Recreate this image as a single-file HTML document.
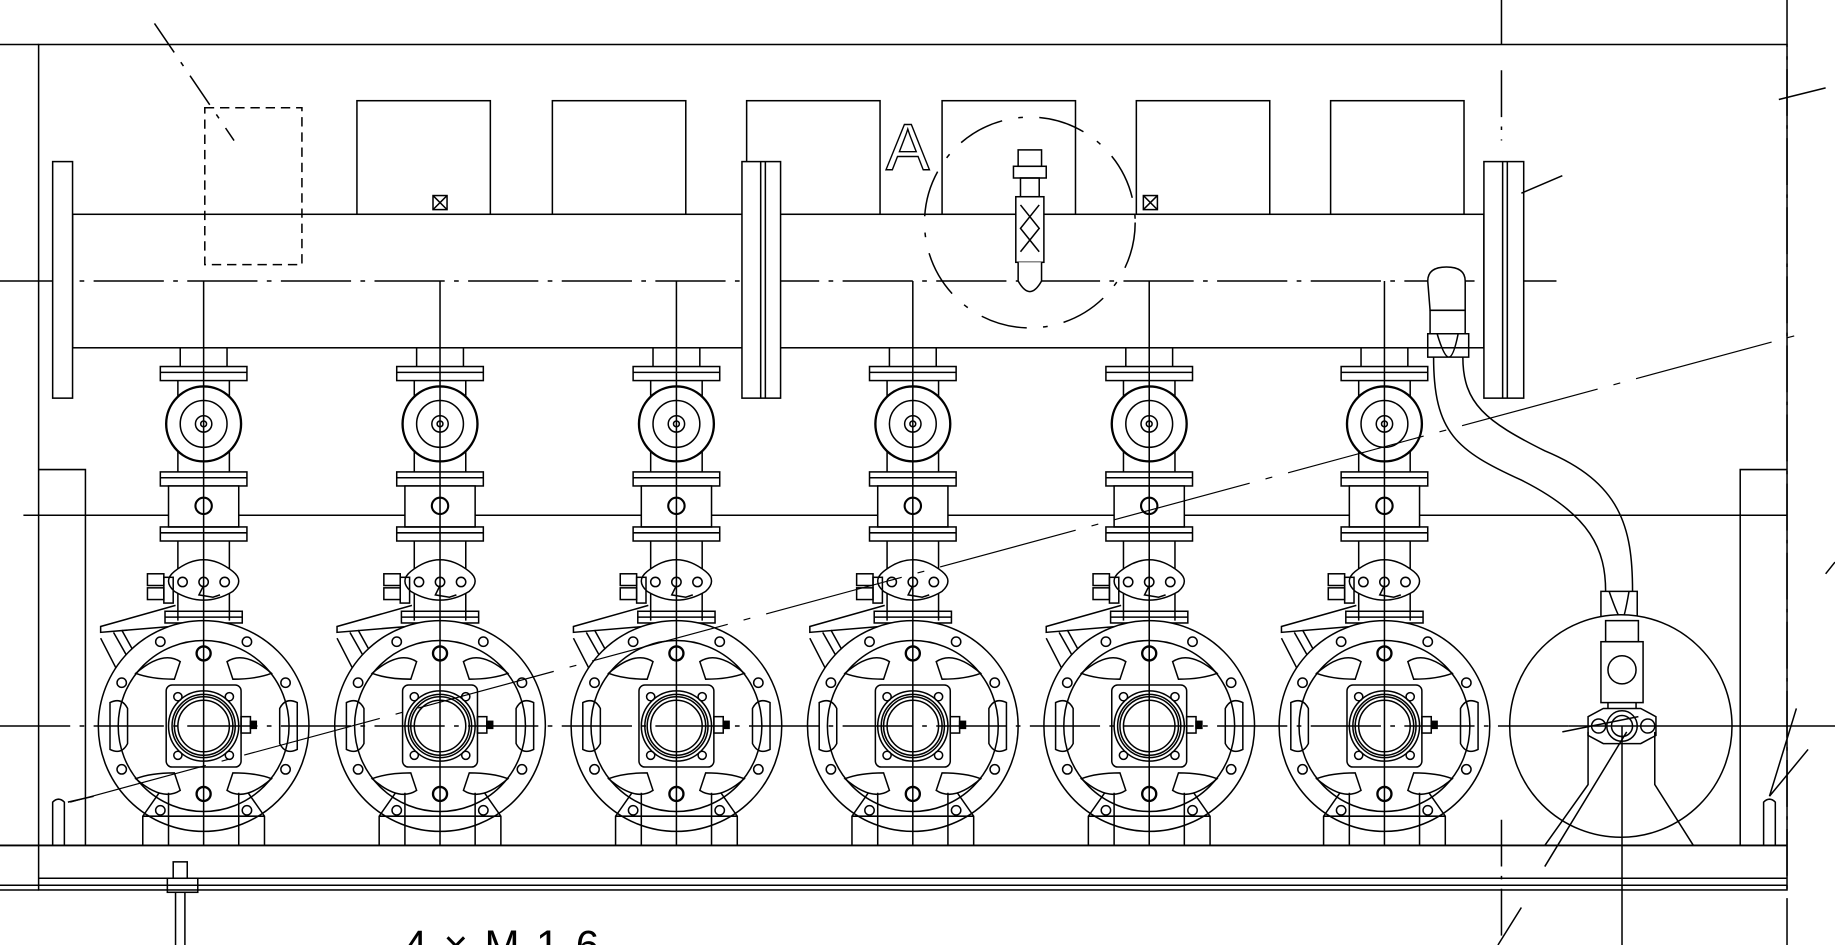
<!DOCTYPE html>
<html><head><meta charset="utf-8"><style>html,body{margin:0;padding:0;background:#fff}svg{display:block}</style></head>
<body>
<svg width="1835" height="945" viewBox="0 0 1568 807" preserveAspectRatio="none" xmlns="http://www.w3.org/2000/svg" fill="none" stroke="#000" stroke-width="1.3">
<defs>
<g id="pump">
  <line x1="-20" y1="297" x2="-20" y2="313"/><line x1="20" y1="297" x2="20" y2="313"/>
  <rect x="-37" y="313" width="74" height="12"/><line x1="-37" y1="318" x2="37" y2="318"/>
  <line x1="-22" y1="325" x2="-22" y2="403"/><line x1="22" y1="325" x2="22" y2="403"/>
  <circle cx="0" cy="362" r="32" fill="#fff" stroke-width="2"/><circle cx="0" cy="362" r="20"/><circle cx="0" cy="362" r="7"/><circle cx="0" cy="362" r="2.5"/>
  <rect x="-37" y="403" width="74" height="12"/><line x1="-37" y1="408" x2="37" y2="408"/>
  <rect x="-30" y="415" width="60" height="35" fill="#fff"/>
  <rect x="-7" y="425" width="14" height="14" rx="7" stroke-width="1.8"/>
  <rect x="-37" y="450" width="74" height="12"/><line x1="-37" y1="455" x2="37" y2="455"/>
  <line x1="-22" y1="462" x2="-22" y2="530"/><line x1="22" y1="462" x2="22" y2="530"/>
  <path d="M-25 488 Q0 468 25 488 Q35 496 25 505 Q0 520 -25 505 Q-35 496 -25 488Z" fill="#fff"/>
  <circle cx="-18" cy="497" r="4"/><circle cx="0" cy="497" r="4"/><circle cx="18" cy="497" r="4"/>
  <path d="M0 500 L-4 508 L8 510 L14 508"/>
  <rect x="-48" y="490" width="14" height="10"/><rect x="-48" y="502" width="14" height="10"/><rect x="-34" y="493" width="8" height="22"/>
  <rect x="-33" y="522" width="66" height="10"/><line x1="-33" y1="527" x2="33" y2="527"/>
  <path d="M-24 517 L-88 535 L-88 540 L-28 535"/>
  <path d="M-88 545 L-70 580 M-77 540 L-60 570 M-70 538 L-55 565"/>
  <circle cx="0" cy="620" r="90" fill="#fff"/><circle cx="0" cy="620" r="73"/>
  <path d="M-58 575 Q-35 555 -20 565 L-25 580 Q-45 580 -58 575Z"/><path d="M58 575 Q35 555 20 565 L25 580 Q45 580 58 575Z"/>
  <path d="M-58 665 Q-35 685 -20 675 L-25 660 Q-45 660 -58 665Z"/><path d="M58 665 Q35 685 20 675 L25 660 Q45 660 58 665Z"/>
  <path d="M-80 600 Q-70 595 -65 605 L-65 635 Q-70 645 -80 640Z"/><path d="M80 600 Q70 595 65 605 L65 635 Q70 645 80 640Z"/>
  <circle cx="0" cy="558" r="6" stroke-width="2"/><circle cx="0" cy="678" r="6" stroke-width="2"/>
  <circle cx="-37" cy="548" r="4"/><circle cx="37" cy="548" r="4"/><circle cx="-70" cy="583" r="4"/><circle cx="70" cy="583" r="4"/>
  <circle cx="-70" cy="657" r="4"/><circle cx="70" cy="657" r="4"/><circle cx="-37" cy="692" r="4"/><circle cx="37" cy="692" r="4"/>
  <rect x="-32" y="585" width="64" height="70" rx="5"/>
  <circle cx="-22" cy="595" r="3.5"/><circle cx="22" cy="595" r="3.5"/><circle cx="-22" cy="645" r="3.5"/><circle cx="22" cy="645" r="3.5"/>
  <circle cx="0" cy="620" r="30"/><circle cx="0" cy="620" r="27"/><circle cx="0" cy="620" r="25"/><circle cx="0" cy="620" r="22"/>
  <rect x="32" y="612" width="8" height="14"/><rect x="40" y="616" width="5" height="6" fill="#000"/>
  <path d="M-38 677 L-52 697 L-52 722 M38 677 L52 697 L52 722"/>
  <path d="M-30 677 L-30 722 M30 677 L30 722"/>
  <line x1="-52" y1="697" x2="52" y2="697"/>
  <line x1="0" y1="240" x2="0" y2="722"/>
</g>
</defs>
<!-- frame -->
<rect x="33" y="38" width="1494" height="722"/>
<line x1="0" y1="38" x2="33" y2="38"/><line x1="0" y1="760" x2="33" y2="760"/>
<line x1="0" y1="722" x2="1527" y2="722" stroke-width="1.6"/>
<line x1="33" y1="750" x2="1527" y2="750"/><line x1="0" y1="756" x2="1527" y2="756"/>
<line x1="20" y1="440" x2="1527" y2="440"/>
<path d="M33 401 L73 401 L73 722"/><path d="M1527 401 L1487 401 L1487 722"/>
<path d="M1283 0 V38 M1283 60 V120 M1283 700 V807 M1527 0 V807" stroke-dasharray="40 8 3 8"/>
<!-- top boxes -->
<g fill="#fff"><rect x="305" y="86" width="114" height="97"/><rect x="472" y="86" width="114" height="97"/><rect x="638" y="86" width="114" height="97"/><rect x="805" y="86" width="114" height="97"/><rect x="971" y="86" width="114" height="97"/><rect x="1137" y="86" width="114" height="97"/></g>
<!-- header -->
<rect x="62" y="183" width="1206" height="114" fill="#fff"/>
<line x1="0" y1="240" x2="1330" y2="240" stroke-dasharray="60 8 4 8"/>
<rect x="45" y="138" width="17" height="202" fill="#fff"/>
<rect x="634" y="138" width="33" height="202" fill="#fff"/><line x1="650" y1="138" x2="650" y2="340"/><line x1="654" y1="138" x2="654" y2="340"/>
<rect x="1268" y="138" width="34" height="202" fill="#fff"/><line x1="1284" y1="138" x2="1284" y2="340"/><line x1="1288" y1="138" x2="1288" y2="340"/>
<rect x="175" y="92" width="83" height="134" stroke-dasharray="8 5"/>
<line x1="132" y1="20" x2="200" y2="120" stroke-dasharray="30 10 4 10"/>
<rect x="370" y="167" width="12" height="12"/><path d="M370 167 L382 179 M382 167 L370 179"/>
<rect x="977" y="167" width="12" height="12"/><path d="M977 167 L989 179 M989 167 L977 179"/>
<text x="757" y="145" font-family="Liberation Sans, sans-serif" font-size="56" fill="#fff" stroke="#000" stroke-width="1.2">A</text>
<circle cx="880" cy="190" r="90" stroke-dasharray="40 14 4 14"/>
<rect x="870" y="128" width="20" height="14"/><rect x="866" y="142" width="28" height="10"/><rect x="872" y="152" width="16" height="16"/>
<rect x="868" y="168" width="24" height="56" fill="#fff"/><path d="M872 175 L888 195 L872 215 M888 175 L872 195 L888 215"/>
<path d="M870 224 L870 240 Q880 258 890 240 L890 224" fill="#fff"/>
<use href="#pump" x="174"/><use href="#pump" x="376"/><use href="#pump" x="578"/><use href="#pump" x="780"/><use href="#pump" x="982"/><use href="#pump" x="1183"/>
<!-- hose -->
<path d="M1220 240 Q1220 228 1236 228 Q1252 228 1252 240 L1252 265 L1222 265Z" fill="#fff"/>
<path d="M1222 265 L1222 285 M1252 265 L1252 285"/>
<path d="M1220 285 L1255 285 L1255 305 L1220 305Z M1228 285 Q1234 305 1238 305 M1246 285 Q1242 305 1238 305"/>
<path d="M1225 305 C1225 370 1245 385 1300 410 C1360 440 1372 470 1372 505"/>
<path d="M1250 305 C1250 345 1270 360 1320 385 C1385 412 1395 450 1395 505"/>
<path d="M1368 505 L1399 505 L1399 530 L1368 530Z M1375 505 Q1383 528 1386 530 M1392 505 Q1388 528 1386 530"/>
<!-- tank -->
<circle cx="1385" cy="620" r="95" fill="#fff"/>
<rect x="1372" y="530" width="28" height="18"/>
<rect x="1368" y="548" width="36" height="52"/><circle cx="1386" cy="572" r="12"/>
<path d="M1374 600 L1374 620 M1398 600 L1398 620"/>
<path d="M1357 612 L1370 605 L1402 605 L1415 612 L1415 628 L1402 635 L1370 635 L1357 628Z" fill="#fff"/>
<circle cx="1366" cy="620" r="6"/><circle cx="1408" cy="620" r="6"/><circle cx="1386" cy="620" r="13"/><circle cx="1386" cy="620" r="9"/>
<path d="M1357 625 L1357 670 L1320 722 M1414 625 L1414 670 L1447 722"/>
<line x1="1386" y1="620" x2="1386" y2="807"/>
<line x1="1340" y1="620" x2="1568" y2="620"/>
<!-- centre lines -->
<line x1="0" y1="620" x2="1340" y2="620" stroke-dasharray="60 8 4 8"/>
<!-- leader lines -->
<path d="M60 685 L1540 285" stroke-width="1" stroke-dasharray="120 14 6 14"/>
<path d="M1300 165 L1335 150 M1520 85 L1560 75 M1560 490 L1568 480 M1335 625 L1400 612 M1320 740 L1390 625 M1280 807 L1300 775"/>
<path d="M1507 700 L1507 685 Q1512 680 1517 685 L1517 722 M1507 700 L1507 722 M1512 680 L1535 605 M1512 680 L1545 640"/>
<path d="M45 722 L45 685 Q50 680 55 685 L55 722 M58 685 L80 680"/>
<!-- bolt -->
<rect x="148" y="736" width="12" height="14"/><rect x="143" y="750" width="26" height="12"/>
<line x1="150" y1="762" x2="150" y2="807"/><line x1="158" y1="762" x2="158" y2="807"/>
<text x="345" y="820" font-family="Liberation Sans, sans-serif" font-size="36" fill="#000" stroke="none" letter-spacing="14">4×M16</text>
</svg>
</body></html>
